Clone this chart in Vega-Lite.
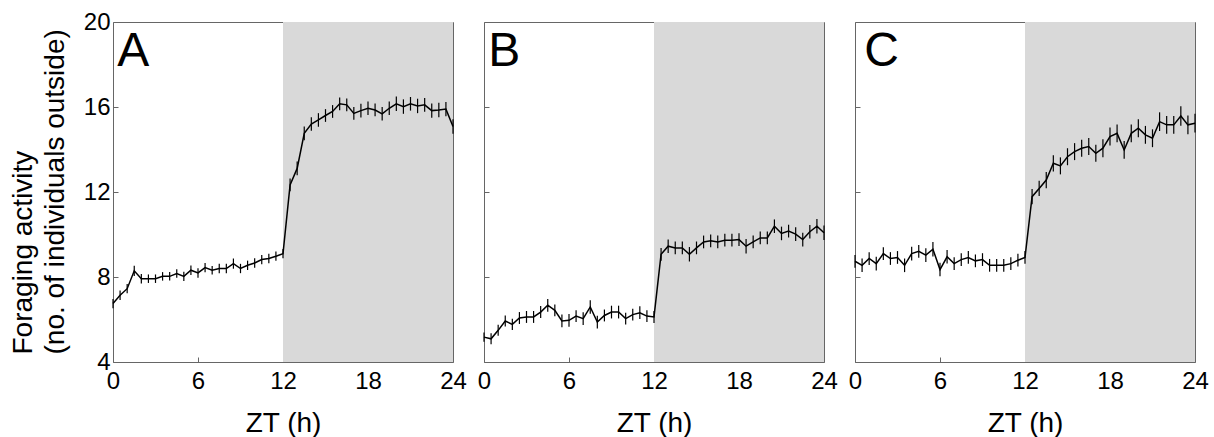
{
  "$schema": "https://vega.github.io/schema/vega-lite/v6.json",
  "padding": {"left": 8, "top": 9, "right": 5, "bottom": 5},
  "background": "white",
  "datasets": {
    "A": [
      {"t":0,"m":6.75,"e":0.22},{"t":0.5,"m":7.14,"e":0.22},{"t":1,"m":7.45,"e":0.22},{"t":1.5,"m":8.29,"e":0.24},
      {"t":2,"m":7.92,"e":0.22},{"t":2.5,"m":7.92,"e":0.2},{"t":3,"m":7.92,"e":0.2},{"t":3.5,"m":8.03,"e":0.2},
      {"t":4,"m":8.03,"e":0.2},{"t":4.5,"m":8.16,"e":0.2},{"t":5,"m":8.03,"e":0.22},{"t":5.5,"m":8.32,"e":0.22},
      {"t":6,"m":8.19,"e":0.22},{"t":6.5,"m":8.44,"e":0.22},{"t":7,"m":8.32,"e":0.2},{"t":7.5,"m":8.4,"e":0.22},
      {"t":8,"m":8.4,"e":0.22},{"t":8.5,"m":8.63,"e":0.24},{"t":9,"m":8.4,"e":0.22},{"t":9.5,"m":8.55,"e":0.22},
      {"t":10,"m":8.66,"e":0.22},{"t":10.5,"m":8.82,"e":0.22},{"t":11,"m":8.87,"e":0.22},{"t":11.5,"m":8.98,"e":0.22},
      {"t":12,"m":9.1,"e":0.22},{"t":12.5,"m":12.33,"e":0.3},{"t":13,"m":13.11,"e":0.32},{"t":13.5,"m":14.76,"e":0.32},
      {"t":14,"m":15.2,"e":0.32},{"t":14.5,"m":15.39,"e":0.32},{"t":15,"m":15.6,"e":0.3},{"t":15.5,"m":15.79,"e":0.3},
      {"t":16,"m":16.15,"e":0.3},{"t":16.5,"m":16.1,"e":0.3},{"t":17,"m":15.7,"e":0.3},{"t":17.5,"m":15.83,"e":0.32},
      {"t":18,"m":15.94,"e":0.32},{"t":18.5,"m":15.86,"e":0.3},{"t":19,"m":15.68,"e":0.32},{"t":19.5,"m":15.94,"e":0.32},
      {"t":20,"m":16.15,"e":0.34},{"t":20.5,"m":16.02,"e":0.34},{"t":21,"m":16.15,"e":0.32},{"t":21.5,"m":16.05,"e":0.34},
      {"t":22,"m":16.1,"e":0.32},{"t":22.5,"m":15.83,"e":0.34},{"t":23,"m":15.86,"e":0.34},{"t":23.5,"m":15.9,"e":0.34},
      {"t":24,"m":15.08,"e":0.34}
    ],
    "B": [
      {"t":0,"m":5.17,"e":0.22},{"t":0.5,"m":5.09,"e":0.26},{"t":1,"m":5.49,"e":0.26},{"t":1.5,"m":5.93,"e":0.26},
      {"t":2,"m":5.77,"e":0.26},{"t":2.5,"m":6.07,"e":0.28},{"t":3,"m":6.12,"e":0.28},{"t":3.5,"m":6.12,"e":0.28},
      {"t":4,"m":6.35,"e":0.28},{"t":4.5,"m":6.67,"e":0.3},{"t":5,"m":6.43,"e":0.28},{"t":5.5,"m":5.93,"e":0.3},
      {"t":6,"m":5.96,"e":0.3},{"t":6.5,"m":6.16,"e":0.28},{"t":7,"m":6.04,"e":0.3},{"t":7.5,"m":6.59,"e":0.32},
      {"t":8,"m":5.88,"e":0.3},{"t":8.5,"m":6.19,"e":0.28},{"t":9,"m":6.35,"e":0.3},{"t":9.5,"m":6.35,"e":0.3},
      {"t":10,"m":6.04,"e":0.28},{"t":10.5,"m":6.23,"e":0.28},{"t":11,"m":6.32,"e":0.3},{"t":11.5,"m":6.16,"e":0.28},
      {"t":12,"m":6.12,"e":0.28},{"t":12.5,"m":9.07,"e":0.3},{"t":13,"m":9.45,"e":0.32},{"t":13.5,"m":9.37,"e":0.3},
      {"t":14,"m":9.37,"e":0.3},{"t":14.5,"m":9.07,"e":0.34},{"t":15,"m":9.37,"e":0.3},{"t":15.5,"m":9.65,"e":0.3},
      {"t":16,"m":9.7,"e":0.3},{"t":16.5,"m":9.65,"e":0.3},{"t":17,"m":9.73,"e":0.3},{"t":17.5,"m":9.73,"e":0.3},
      {"t":18,"m":9.76,"e":0.3},{"t":18.5,"m":9.45,"e":0.34},{"t":19,"m":9.65,"e":0.3},{"t":19.5,"m":9.84,"e":0.3},
      {"t":20,"m":9.84,"e":0.3},{"t":20.5,"m":10.39,"e":0.32},{"t":21,"m":10.05,"e":0.32},{"t":21.5,"m":10.16,"e":0.3},
      {"t":22,"m":10.02,"e":0.32},{"t":22.5,"m":9.76,"e":0.32},{"t":23,"m":10.13,"e":0.32},{"t":23.5,"m":10.39,"e":0.34},
      {"t":24,"m":10.08,"e":0.34}
    ],
    "C": [
      {"t":0,"m":8.74,"e":0.3},{"t":0.5,"m":8.55,"e":0.32},{"t":1,"m":8.87,"e":0.3},{"t":1.5,"m":8.63,"e":0.32},
      {"t":2,"m":9.1,"e":0.3},{"t":2.5,"m":8.87,"e":0.3},{"t":3,"m":8.92,"e":0.3},{"t":3.5,"m":8.55,"e":0.32},
      {"t":4,"m":9.1,"e":0.32},{"t":4.5,"m":9.21,"e":0.3},{"t":5,"m":9.03,"e":0.32},{"t":5.5,"m":9.31,"e":0.34},
      {"t":6,"m":8.35,"e":0.32},{"t":6.5,"m":8.95,"e":0.32},{"t":7,"m":8.63,"e":0.3},{"t":7.5,"m":8.82,"e":0.3},
      {"t":8,"m":8.92,"e":0.3},{"t":8.5,"m":8.76,"e":0.3},{"t":9,"m":8.82,"e":0.3},{"t":9.5,"m":8.55,"e":0.3},
      {"t":10,"m":8.55,"e":0.3},{"t":10.5,"m":8.55,"e":0.3},{"t":11,"m":8.63,"e":0.3},{"t":11.5,"m":8.79,"e":0.3},
      {"t":12,"m":8.92,"e":0.3},{"t":12.5,"m":11.78,"e":0.36},{"t":13,"m":12.17,"e":0.36},{"t":13.5,"m":12.56,"e":0.38},
      {"t":14,"m":13.35,"e":0.38},{"t":14.5,"m":13.23,"e":0.4},{"t":15,"m":13.66,"e":0.4},{"t":15.5,"m":13.9,"e":0.4},
      {"t":16,"m":14.06,"e":0.4},{"t":16.5,"m":14.14,"e":0.4},{"t":17,"m":13.82,"e":0.4},{"t":17.5,"m":14.06,"e":0.42},
      {"t":18,"m":14.61,"e":0.42},{"t":18.5,"m":14.76,"e":0.42},{"t":19,"m":13.98,"e":0.42},{"t":19.5,"m":14.76,"e":0.42},
      {"t":20,"m":15.0,"e":0.42},{"t":20.5,"m":14.69,"e":0.42},{"t":21,"m":14.53,"e":0.42},{"t":21.5,"m":15.31,"e":0.44},
      {"t":22,"m":15.16,"e":0.42},{"t":22.5,"m":15.16,"e":0.42},{"t":23,"m":15.58,"e":0.46},{"t":23.5,"m":15.16,"e":0.44},
      {"t":24,"m":15.24,"e":0.44}
    ]
  },
  "hconcat": [
    {
      "width": 340, "height": 340,
      "layer": [
        {"data": {"values": [{"s": 12, "f": 24}]}, "mark": {"type": "rect", "color": "#d9d9d9"},
         "encoding": {
           "x": {"field": "s", "type": "quantitative", "title": "ZT (h)", "scale": {"domain": [0, 24], "nice": false}, "axis": {"values": [0, 6, 12, 18, 24]}},
           "x2": {"field": "f"},
           "y": {"datum": 4, "type": "quantitative", "title": ["Foraging activity", "(no. of individuals outside)"], "scale": {"domain": [4, 20], "nice": false}, "axis": {"values": [4, 8, 12, 16, 20], "titleY": 332, "titleAlign": "left", "titleAngle": -90}},
           "y2": {"datum": 20}}},
        {"data": {"name": "A"}, "mark": {"type": "errorbar", "color": "black", "thickness": 1.2},
         "encoding": {"x": {"field": "t", "type": "quantitative", "title": "ZT (h)"}, "y": {"field": "m", "type": "quantitative", "title": ["Foraging activity", "(no. of individuals outside)"]}, "yError": {"field": "e"}}},
        {"data": {"name": "A"}, "mark": {"type": "line", "color": "black", "strokeWidth": 1.5},
         "encoding": {"x": {"field": "t", "type": "quantitative", "title": "ZT (h)"}, "y": {"field": "m", "type": "quantitative", "title": ["Foraging activity", "(no. of individuals outside)"]}}},
        {"data": {"values": [{"p": "A"}]}, "mark": {"type": "text", "fontSize": 48, "align": "left", "baseline": "alphabetic", "color": "black"},
         "encoding": {"x": {"datum": 0.3, "type": "quantitative", "title": "ZT (h)"}, "y": {"datum": 17.95, "type": "quantitative", "title": ["Foraging activity", "(no. of individuals outside)"]}, "text": {"field": "p"}}}
      ]
    },
    {
      "width": 340, "height": 340,
      "layer": [
        {"data": {"values": [{"s": 12, "f": 24}]}, "mark": {"type": "rect", "color": "#d9d9d9"},
         "encoding": {
           "x": {"field": "s", "type": "quantitative", "title": "ZT (h)", "scale": {"domain": [0, 24], "nice": false}, "axis": {"values": [0, 6, 12, 18, 24]}},
           "x2": {"field": "f"},
           "y": {"datum": 4, "type": "quantitative", "title": null, "scale": {"domain": [4, 20], "nice": false}, "axis": {"values": [4, 8, 12, 16, 20], "labels": false}},
           "y2": {"datum": 20}}},
        {"data": {"name": "B"}, "mark": {"type": "errorbar", "color": "black", "thickness": 1.2},
         "encoding": {"x": {"field": "t", "type": "quantitative", "title": "ZT (h)"}, "y": {"field": "m", "type": "quantitative", "title": null}, "yError": {"field": "e"}}},
        {"data": {"name": "B"}, "mark": {"type": "line", "color": "black", "strokeWidth": 1.5},
         "encoding": {"x": {"field": "t", "type": "quantitative", "title": "ZT (h)"}, "y": {"field": "m", "type": "quantitative", "title": null}}},
        {"data": {"values": [{"p": "B"}]}, "mark": {"type": "text", "fontSize": 48, "align": "left", "baseline": "alphabetic", "color": "black"},
         "encoding": {"x": {"datum": 0.3, "type": "quantitative", "title": "ZT (h)"}, "y": {"datum": 17.95, "type": "quantitative", "title": null}, "text": {"field": "p"}}}
      ]
    },
    {
      "width": 340, "height": 340,
      "layer": [
        {"data": {"values": [{"s": 12, "f": 24}]}, "mark": {"type": "rect", "color": "#d9d9d9"},
         "encoding": {
           "x": {"field": "s", "type": "quantitative", "title": "ZT (h)", "scale": {"domain": [0, 24], "nice": false}, "axis": {"values": [0, 6, 12, 18, 24]}},
           "x2": {"field": "f"},
           "y": {"datum": 4, "type": "quantitative", "title": null, "scale": {"domain": [4, 20], "nice": false}, "axis": {"values": [4, 8, 12, 16, 20], "labels": false}},
           "y2": {"datum": 20}}},
        {"data": {"name": "C"}, "mark": {"type": "errorbar", "color": "black", "thickness": 1.2},
         "encoding": {"x": {"field": "t", "type": "quantitative", "title": "ZT (h)"}, "y": {"field": "m", "type": "quantitative", "title": null}, "yError": {"field": "e"}}},
        {"data": {"name": "C"}, "mark": {"type": "line", "color": "black", "strokeWidth": 1.5},
         "encoding": {"x": {"field": "t", "type": "quantitative", "title": "ZT (h)"}, "y": {"field": "m", "type": "quantitative", "title": null}}},
        {"data": {"values": [{"p": "C"}]}, "mark": {"type": "text", "fontSize": 48, "align": "left", "baseline": "alphabetic", "color": "black"},
         "encoding": {"x": {"datum": 0.65, "type": "quantitative", "title": "ZT (h)"}, "y": {"datum": 17.95, "type": "quantitative", "title": null}, "text": {"field": "p"}}}
      ]
    }
  ],
  "config": {
    "font": "Liberation Sans",
    "view": {"stroke": "#666666", "strokeWidth": 1},
    "concat": {"spacing": 9},
    "axis": {
      "domain": false, "grid": false,
      "tickColor": "#666666", "tickSize": -5, "tickWidth": 1,
      "labelFontSize": 24, "labelColor": "black", "labelFont": "Liberation Sans",
      "titleFontSize": 28, "titleFontWeight": "normal", "titleColor": "black", "titleFont": "Liberation Sans"
    },
    "axisX": {"labelPadding": 12, "titlePadding": 16, "labelFlush": false},
    "axisY": {"labelPadding": 8, "titlePadding": 14, "titleLineHeight": 32}
  }
}
